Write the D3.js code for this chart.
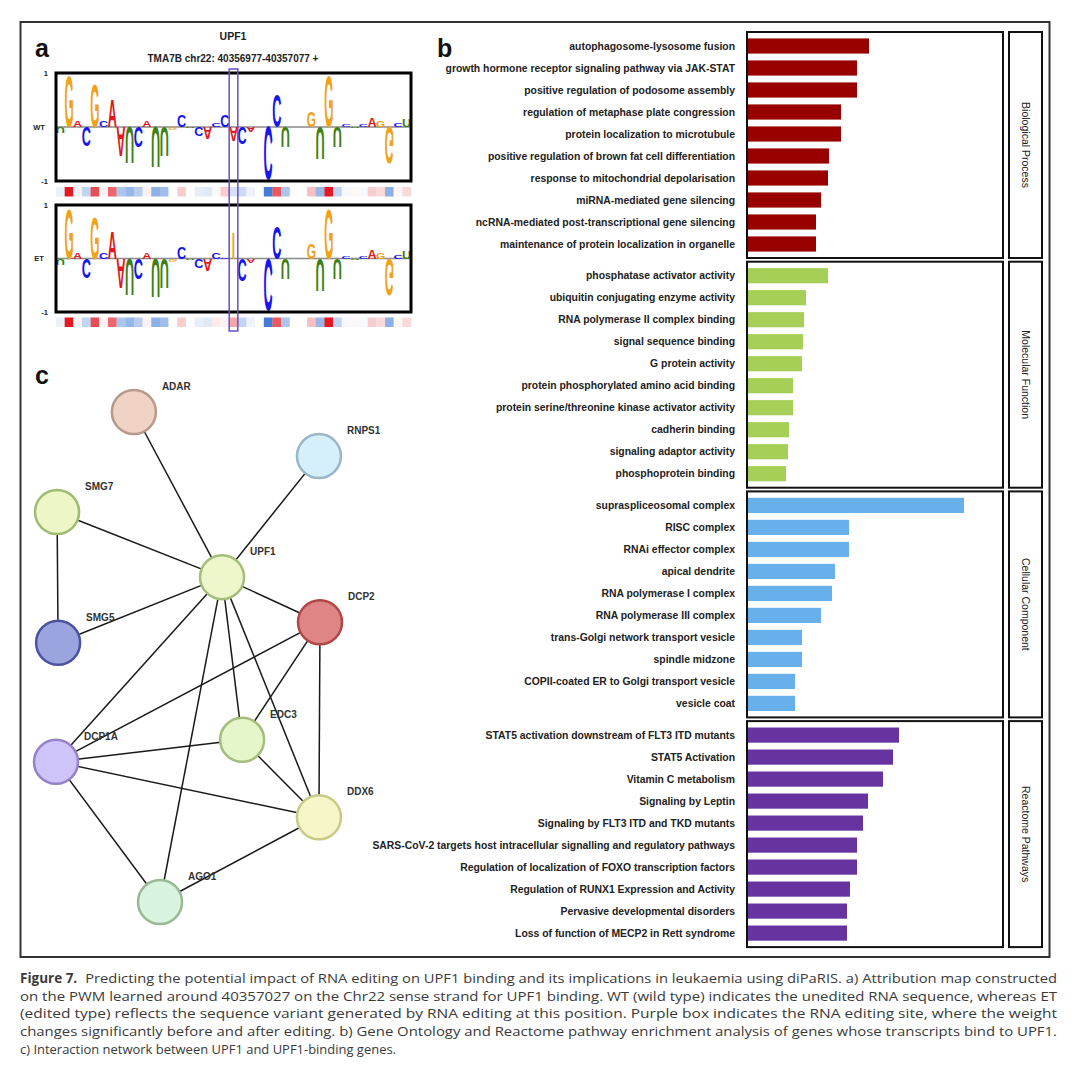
<!DOCTYPE html>
<html>
<head>
<meta charset="utf-8">
<script src="https://cdn.jsdelivr.net/npm/d3@7"></script>
<style>
  body { margin: 0; background: #fff; }
  svg { display: block; }
</style>
</head>
<body>
<svg id="fig" width="1080" height="1080"></svg>
<script>
// ---- Panel a: attribution logo (41 positions around chr22:40357027) ----
const wtLetters = ["U","G","A","C","G","C","A","A","U","C","A","U","U","G","C","U","C","A","C","C","A",
                   "C","A","C","C","C","U","U","G","G","U","G","U","C","U","C","A","G","G","C","U"];
const wtScores = [-0.11,0.95,0.12,-0.37,0.80,0.12,0.52,-0.56,-0.69,-0.40,0.13,-0.75,-0.56,-0.04,0.21,-0.02,
                  -0.16,-0.22,0.08,0.21,-0.26,-0.31,-0.09,0.0,-1.0,0.61,-0.40,0.0,0.0,0.30,-0.62,0.95,
                  -0.40,0.04,-0.03,0.04,0.18,0.13,-0.69,0.06,0.15];
const etLetters = ["U","G","A","C","G","C","A","A","U","C","A","U","U","G","C","U","C","A","C","C","I",
                   "C","A","C","C","C","U","U","G","G","U","G","U","C","U","C","A","G","G","C","U"];
const etScores = [-0.11,0.95,0.12,-0.37,0.80,0.12,0.52,-0.56,-0.69,-0.40,0.13,-0.75,-0.56,-0.04,0.21,-0.02,
                  -0.16,-0.22,0.12,0.02,0.49,-0.41,-0.08,0.0,-1.0,0.61,-0.40,0.0,0.0,0.30,-0.62,0.95,
                  -0.40,0.04,-0.03,0.04,0.18,0.13,-0.69,0.06,0.15];
const wtHeat = [-0.1,0.9,0.05,-0.3,0.7,0.05,0.6,-0.4,-0.5,-0.35,0.05,-0.55,-0.45,0,0.2,0,-0.12,-0.15,0.03,0.2,
                -0.2,-0.25,-0.08,0,-0.9,0.65,-0.4,0,0,0.25,-0.5,0.9,-0.3,-0.05,0.03,-0.04,0.2,0.15,-0.55,0.04,0.15];
const etHeat = [-0.1,0.9,0.05,-0.3,0.7,0.05,0.6,-0.4,-0.5,-0.35,0.05,-0.55,-0.45,0,0.2,0,-0.12,-0.15,0.08,0.05,
                0.35,-0.3,-0.08,0,-0.9,0.65,-0.4,0,0,0.25,-0.5,0.9,-0.3,-0.05,0.03,-0.04,0.2,0.15,-0.55,0.04,0.15];
const editSite = 20;

// ---- Panel b: enrichment ----
const groupNames = ["Biological Process", "Molecular Function", "Cellular Component", "Reactome Pathways"];
const bpTerms = ["autophagosome-lysosome fusion", "growth hormone receptor signaling pathway via JAK-STAT",
  "positive regulation of podosome assembly", "regulation of metaphase plate congression",
  "protein localization to microtubule", "positive regulation of brown fat cell differentiation",
  "response to mitochondrial depolarisation", "miRNA-mediated gene silencing",
  "ncRNA-mediated post-transcriptional gene silencing", "maintenance of protein localization in organelle"];
const bpValues = [12.1, 10.9, 10.9, 9.3, 9.3, 8.1, 8.0, 7.3, 6.8, 6.8];
const mfTerms = ["phosphatase activator activity", "ubiquitin conjugating enzyme activity",
  "RNA polymerase II complex binding", "signal sequence binding", "G protein activity",
  "protein phosphorylated amino acid binding", "protein serine/threonine kinase activator activity",
  "cadherin binding", "signaling adaptor activity", "phosphoprotein binding"];
const mfValues = [8.0, 5.8, 5.6, 5.5, 5.4, 4.5, 4.5, 4.1, 4.0, 3.8];
const ccTerms = ["supraspliceosomal complex", "RISC complex", "RNAi effector complex", "apical dendrite",
  "RNA polymerase I complex", "RNA polymerase III complex", "trans-Golgi network transport vesicle",
  "spindle midzone", "COPII-coated ER to Golgi transport vesicle", "vesicle coat"];
const ccValues = [21.6, 10.1, 10.1, 8.7, 8.4, 7.3, 5.4, 5.4, 4.7, 4.7];
const rpTerms = ["STAT5 activation downstream of FLT3 ITD mutants", "STAT5 Activation", "Vitamin C metabolism",
  "Signaling by Leptin", "Signaling by FLT3 ITD and TKD mutants",
  "SARS-CoV-2 targets host intracellular signalling and regulatory pathways",
  "Regulation of localization of FOXO transcription factors", "Regulation of RUNX1 Expression and Activity",
  "Pervasive developmental disorders", "Loss of function of MECP2 in Rett syndrome"];
const rpValues = [15.1, 14.5, 13.5, 12.0, 11.5, 10.9, 10.9, 10.2, 9.9, 9.9];
const groupColors = ["#990000", "#a6cf57", "#68b0ec", "#6633a0"];

// ---- Panel c: interaction network (layout units 0-100) ----
const nodeNames = ["ADAR", "RNPS1", "SMG7", "UPF1", "DCP2", "SMG5", "DCP1A", "EDC3", "DDX6", "AGO1"];
const nodeX = [29.5, 99.6, 0.4, 62.9, 100, 0.8, 0, 70.5, 99.6, 39.4];
const nodeY = [0, 9.0, 20.4, 33.7, 42.9, 47.1, 71.4, 66.9, 82.7, 100];
const nodeFill = ["#f1d3c6", "#d5f0fb", "#edf6c6", "#eef7cb", "#e08585", "#9ca4df", "#cfc4fa", "#e5f6cb", "#f6f6c9", "#d8f4de"];
const nodeStroke = ["#b89a8c", "#9bb6c9", "#a2bb73", "#a5bd78", "#b04848", "#4b52a0", "#9683c7", "#a5bd7c", "#c8cb88", "#9ab895"];
const edges = [["ADAR","UPF1"],["RNPS1","UPF1"],["SMG7","UPF1"],["SMG7","SMG5"],["SMG5","UPF1"],
  ["UPF1","DCP2"],["UPF1","DCP1A"],["UPF1","AGO1"],["UPF1","EDC3"],["UPF1","DDX6"],
  ["DCP2","DCP1A"],["DCP2","EDC3"],["DCP2","DDX6"],["DCP1A","EDC3"],["DCP1A","DDX6"],
  ["DCP1A","AGO1"],["EDC3","DDX6"],["AGO1","DDX6"]];

const captionLines = [
  "Predicting the potential impact of RNA editing on UPF1 binding and its implications in leukaemia using diPaRIS. a) Attribution map constructed",
  "on the PWM learned around 40357027 on the Chr22 sense strand for UPF1 binding. WT (wild type) indicates the unedited RNA sequence, whereas ET",
  "(edited type) reflects the sequence variant generated by RNA editing at this position. Purple box indicates the RNA editing site, where the weight",
  "changes significantly before and after editing. b) Gene Ontology and Reactome pathway enrichment analysis of genes whose transcripts bind to UPF1.",
  "c) Interaction network between UPF1 and UPF1-binding genes."
];

const SANS = "'Liberation Sans', Arial, Helvetica, sans-serif";
const svg = d3.select("#fig");
svg.append("rect").attr("width", 1080).attr("height", 1080).attr("fill", "#fff");

// outer frame
svg.append("rect").attr("x", 20.5).attr("y", 22).attr("width", 1029).attr("height", 935)
  .attr("fill", "none").attr("stroke", "#333").attr("stroke-width", 2);

// panel letters
[["a", 35, 57], ["b", 437, 57], ["c", 35, 384]].forEach(([t, x, y]) => {
  svg.append("text").attr("x", x).attr("y", y).text(t)
    .attr("font-family", SANS).attr("font-weight", "bold").attr("font-size", 25).attr("fill", "#111");
});

// ---------- Panel a ----------
const pa = svg.append("g");
pa.append("text").attr("x", 233).attr("y", 40).attr("text-anchor", "middle").text("UPF1")
  .attr("font-family", SANS).attr("font-weight", "bold").attr("font-size", 10.5).attr("fill", "#222");
pa.append("text").attr("x", 233).attr("y", 62).attr("text-anchor", "middle").text("TMA7B chr22: 40356977-40357077 +")
  .attr("font-family", SANS).attr("font-weight", "bold").attr("font-size", 10).attr("fill", "#222");

const xPos = d3.scaleBand().domain(d3.range(wtLetters.length)).range([56, 411]);
const heatColor = d3.scaleLinear().domain([-1, 0, 1]).range(["#2f6fd0", "#ffffff", "#e0000b"]);
const letterColor = { A: "#e3161b", C: "#1616ee", G: "#efa21a", U: "#3d7f12", I: "#efa21a" };

const FS = 100, CAP = 0.716 * FS;
const adv = {};
["A", "C", "G", "U", "I"].forEach(L => {
  const t = svg.append("text").attr("font-family", SANS).attr("font-weight", "bold").attr("font-size", FS).text(L);
  adv[L] = t.node().getComputedTextLength();
  t.remove();
});

function drawLogo(letters, scores, heat, top, bottom, heatTop, name) {
  const g = pa.append("g");
  const y = d3.scaleLinear().domain([-1, 1]).range([bottom, top]);
  const bw = xPos.bandwidth();
  g.append("line").attr("x1", 56).attr("x2", 411).attr("y1", y(0)).attr("y2", y(0))
    .attr("stroke", "#8a8a8a").attr("stroke-width", 1.5);
  letters.forEach((L, i) => {
    const v = scores[i];
    const h = Math.abs(y(v) - y(0));
    if (h < 0.6) return;
    const sx = (bw * 1.06) / (L === "I" ? adv.G : adv[L]);
    const x = xPos(i) + (bw - adv[L] * sx) / 2;
    const sy = h / CAP * (v > 0 ? 1 : -1);
    g.append("text").text(L)
      .attr("font-family", SANS).attr("font-weight", "bold").attr("font-size", FS)
      .attr("fill", letterColor[L])
      .attr("transform", `translate(${x},${y(0)}) scale(${sx},${sy})`);
  });
  g.append("rect").attr("x", 56).attr("y", top).attr("width", 355).attr("height", bottom - top)
    .attr("fill", "none").attr("stroke", "#000").attr("stroke-width", 3);
  const tick = (t, yy, xx, anchor) => g.append("text").attr("x", xx).attr("y", yy).attr("dy", "0.35em")
    .attr("text-anchor", anchor).text(t)
    .attr("font-family", SANS).attr("font-weight", "bold").attr("font-size", 7.5).attr("fill", "#222");
  tick("1", y(1), 48, "end");
  tick("-1", y(-1), 48, "end");
  tick(name, y(0), 39, "middle");
  g.selectAll(".cell").data(heat).enter().append("rect")
    .attr("x", (d, i) => xPos(i)).attr("y", heatTop)
    .attr("width", bw + 0.2).attr("height", 9.5)
    .attr("fill", d => heatColor(d));
}
drawLogo(wtLetters, wtScores, wtHeat, 73, 181, 187, "WT");
drawLogo(etLetters, etScores, etHeat, 205, 312, 317.5, "ET");

pa.append("rect").attr("x", xPos(editSite)).attr("y", 69).attr("width", xPos.bandwidth()).attr("height", 262)
  .attr("fill", "none").attr("stroke", "#6a4cc6").attr("stroke-width", 1.5);

// ---------- Panel b ----------
const pb = svg.append("g");
const xBar = d3.scaleLinear().domain([0, 25]).range([0, 250]);
const termsAll = [bpTerms, mfTerms, ccTerms, rpTerms];
const valuesAll = [bpValues, mfValues, ccValues, rpValues];
groupNames.forEach((gname, k) => {
  const top = 32 + k * 229.7, bottom = top + 226;
  const yBand = d3.scaleBand().domain(termsAll[k]).range([top + 3, bottom - 3])
    .paddingInner(0.31).paddingOuter(0.155);
  const g = pb.append("g");
  g.selectAll(".bar").data(termsAll[k]).enter().append("rect")
    .attr("x", 748).attr("y", d => yBand(d))
    .attr("width", (d, i) => xBar(valuesAll[k][i])).attr("height", yBand.bandwidth())
    .attr("fill", groupColors[k]);
  g.selectAll(".lab").data(termsAll[k]).enter().append("text")
    .attr("x", 735).attr("y", d => yBand(d) + yBand.bandwidth() / 2).attr("dy", "0.35em")
    .attr("text-anchor", "end").text(d => d)
    .attr("font-family", SANS).attr("font-weight", "bold").attr("font-size", 10.4).attr("fill", "#222");
  g.append("rect").attr("x", 747).attr("y", top).attr("width", 256).attr("height", bottom - top)
    .attr("fill", "none").attr("stroke", "#111").attr("stroke-width", 2);
  g.append("rect").attr("x", 1009).attr("y", top).attr("width", 33).attr("height", bottom - top)
    .attr("fill", "none").attr("stroke", "#111").attr("stroke-width", 2);
  g.append("text").attr("transform", `translate(1025.5,${(top + bottom) / 2}) rotate(90)`)
    .attr("text-anchor", "middle").attr("dy", "0.35em").text(gname)
    .attr("font-family", SANS).attr("font-size", 10.5).attr("fill", "#222");
});

// ---------- Panel c ----------
const pc = svg.append("g");
const xNet = d3.scaleLinear().domain([0, 100]).range([56, 320]);
const yNet = d3.scaleLinear().domain([0, 100]).range([412, 902]);
const idx = name => nodeNames.indexOf(name);
pc.selectAll(".edge").data(edges).enter().append("line")
  .attr("x1", d => xNet(nodeX[idx(d[0])])).attr("y1", d => yNet(nodeY[idx(d[0])]))
  .attr("x2", d => xNet(nodeX[idx(d[1])])).attr("y2", d => yNet(nodeY[idx(d[1])]))
  .attr("stroke", "#1a1a1a").attr("stroke-width", 1.5);
pc.selectAll(".node").data(nodeNames).enter().append("circle")
  .attr("cx", (d, i) => xNet(nodeX[i])).attr("cy", (d, i) => yNet(nodeY[i])).attr("r", 22)
  .attr("fill", (d, i) => nodeFill[i]).attr("stroke", (d, i) => nodeStroke[i]).attr("stroke-width", 2.5);
pc.selectAll(".nlab").data(nodeNames).enter().append("text")
  .attr("x", (d, i) => xNet(nodeX[i]) + 28).attr("y", (d, i) => yNet(nodeY[i]) - 22)
  .text(d => d)
  .attr("font-family", SANS).attr("font-weight", "bold").attr("font-size", 10).attr("fill", "#333");

// ---------- Caption ----------
const CAPF = "'Liberation Sans Narrow', 'Open Sans', 'Noto Sans', sans-serif";
const cap = svg.append("g").attr("fill", "#3a3a3a").attr("font-family", CAPF).attr("font-size", 13.5);
const fig = cap.append("text").attr("x", 20).attr("y", 983).attr("font-weight", "bold").text("Figure 7.");
const figW = fig.node().getComputedTextLength();
captionLines.forEach((line, i) => {
  const x0 = i === 0 ? 20 + figW + 8 : 20;
  const t = cap.append("text").attr("x", x0).attr("y", 983 + i * 17.7).text(line);
  if (i < captionLines.length - 1) {
    t.attr("textLength", 1057 - x0).attr("lengthAdjust", "spacingAndGlyphs");
  } else {
    t.attr("textLength", 376).attr("lengthAdjust", "spacingAndGlyphs");
  }
});
</script>
</body>
</html>
